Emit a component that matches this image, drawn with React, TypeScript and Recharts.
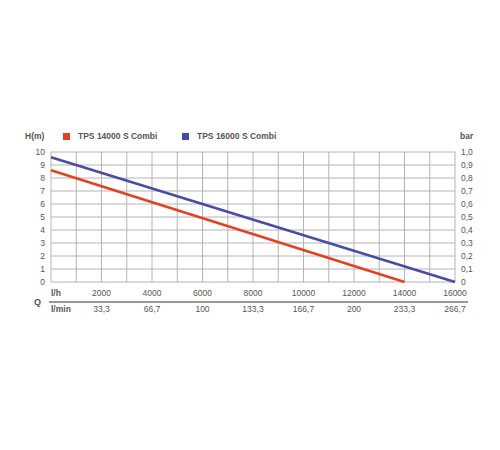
import {
  CartesianGrid,
  Line,
  LineChart,
  XAxis,
  YAxis,
} from 'recharts'

// Förderhöhe H (m) über Fördermenge Q (l/h)
const qPoints = [0, 14000, 16000]
const tps14000 = [8.6, 0, null]
const tps16000 = [9.6, null, 0]

const series = [
  { key: 'tps14000', name: 'TPS 14000 S Combi', color: '#e2421f' },
  { key: 'tps16000', name: 'TPS 16000 S Combi', color: '#4a4ba3' },
]

const qMax = 16000
const qTicks = [0, 2000, 4000, 6000, 8000, 10000, 12000, 14000, 16000]
const qGridTicks = [
  0, 1000, 2000, 3000, 4000, 5000, 6000, 7000, 8000, 9000, 10000, 11000,
  12000, 13000, 14000, 15000, 16000,
]
const lhLabels = ['l/h', '2000', '4000', '6000', '8000', '10000', '12000', '14000', '16000']
const lminLabels = ['l/min', '33,3', '66,7', '100', '133,3', '166,7', '200', '233,3', '266,7']
const hTicks = [0, 1, 2, 3, 4, 5, 6, 7, 8, 9, 10]
const barTicks = [0, 0.1, 0.2, 0.3, 0.4, 0.5, 0.6, 0.7, 0.8, 0.9, 1]
const barLabels = ['0', '0,1', '0,2', '0,3', '0,4', '0,5', '0,6', '0,7', '0,8', '0,9', '1,0']

const data = qPoints.map((q, i) => ({ q, tps14000: tps14000[i], tps16000: tps16000[i] }))

const FONT = '"Liberation Sans", Arial, sans-serif'
const TEXT = '#555'
const GRID = '#b4b4b4'

function makeTick(labels: string[]) {
  return (props: any) => {
    const { x, y, index } = props
    const first = index === 0
    return (
      <text
        x={x}
        y={y}
        dy="0.71em"
        textAnchor={first ? 'start' : 'middle'}
        fontSize={8.5}
        fontWeight={first ? 700 : 400}
        fontFamily={FONT}
        fill={TEXT}
      >
        {labels[index]}
      </text>
    )
  }
}

const label = {
  position: 'absolute' as const,
  fontFamily: FONT,
  fontSize: 8.5,
  fontWeight: 700,
  color: TEXT,
  lineHeight: '12px',
  whiteSpace: 'nowrap' as const,
}

function Header() {
  return (
    <div style={{ position: 'absolute', left: 0, top: 130, width: 500, height: 12 }}>
      <span style={{ ...label, top: 0, left: 25 }}>H(m)</span>
      {series.map((s, i) => (
        <span key={s.key}>
          <span style={{ position: 'absolute', top: 3, left: i === 0 ? 63 : 182, width: 7, height: 7, background: s.color }} />
          <span style={{ ...label, top: 0, left: i === 0 ? 78 : 197 }}>{s.name}</span>
        </span>
      ))}
      <span style={{ ...label, top: 0, left: 460 }}>bar</span>
    </div>
  )
}

// Q-Beschriftung und Trennlinie zwischen l/h und l/min
function QRows() {
  return (
    <>
      <div style={{ position: 'absolute', left: 49, top: 301, width: 419, height: 1.5, background: '#999' }} />
      <span style={{ ...label, fontSize: 9, left: 34, top: 296 }}>Q</span>
    </>
  )
}

export default function App() {
  return (
    <div style={{ position: 'absolute', left: 0, top: 0, width: 500, height: 450, background: '#fff' }}>
      <LineChart width={500} height={450} data={data} margin={{ top: 152, right: 15, bottom: 133, left: 21 }}>
        <XAxis
          xAxisId="lh"
          type="number"
          dataKey="q"
          domain={[0, qMax]}
          ticks={qTicks}
          interval={0}
          height={15}
          tickSize={0}
          tickMargin={8}
          axisLine={false}
          tick={makeTick(lhLabels)}
        />
        <XAxis
          xAxisId="lmin"
          type="number"
          dataKey="q"
          domain={[0, qMax]}
          allowDataOverflow
          ticks={qTicks}
          interval={0}
          height={20}
          tickSize={0}
          tickMargin={9}
          axisLine={false}
          tick={makeTick(lminLabels)}
        />
        <YAxis
          yAxisId="h"
          type="number"
          domain={[0, 10]}
          ticks={hTicks}
          interval={0}
          width={30}
          tickSize={0}
          tickMargin={6}
          axisLine={false}
          tick={{ fontSize: 8.5, fill: TEXT, fontFamily: FONT }}
        />
        <YAxis
          yAxisId="bar"
          orientation="right"
          type="number"
          domain={[0, 1]}
          allowDataOverflow
          ticks={barTicks}
          interval={0}
          width={30}
          tickSize={0}
          tickMargin={6}
          axisLine={false}
          tickFormatter={(v: number) => barLabels[barTicks.indexOf(v)] ?? String(v)}
          tick={{ fontSize: 8.5, fill: TEXT, fontFamily: FONT, textAnchor: 'start' }}
        />
        <CartesianGrid
          xAxisId="lh"
          yAxisId="h"
          stroke={GRID}
          strokeWidth={1}
          verticalCoordinatesGenerator={({ offset }: any) =>
            qGridTicks.map((v) => offset.left + (v / qMax) * offset.width)
          }
        />
        {series.map((s) => (
          <Line
            key={s.key}
            xAxisId="lh"
            yAxisId="h"
            dataKey={s.key}
            name={s.name}
            type="linear"
            connectNulls
            stroke={s.color}
            strokeWidth={2.5}
            dot={false}
            activeDot={false}
            isAnimationActive={false}
          />
        ))}
      </LineChart>
      <Header />
      <QRows />
    </div>
  )
}
